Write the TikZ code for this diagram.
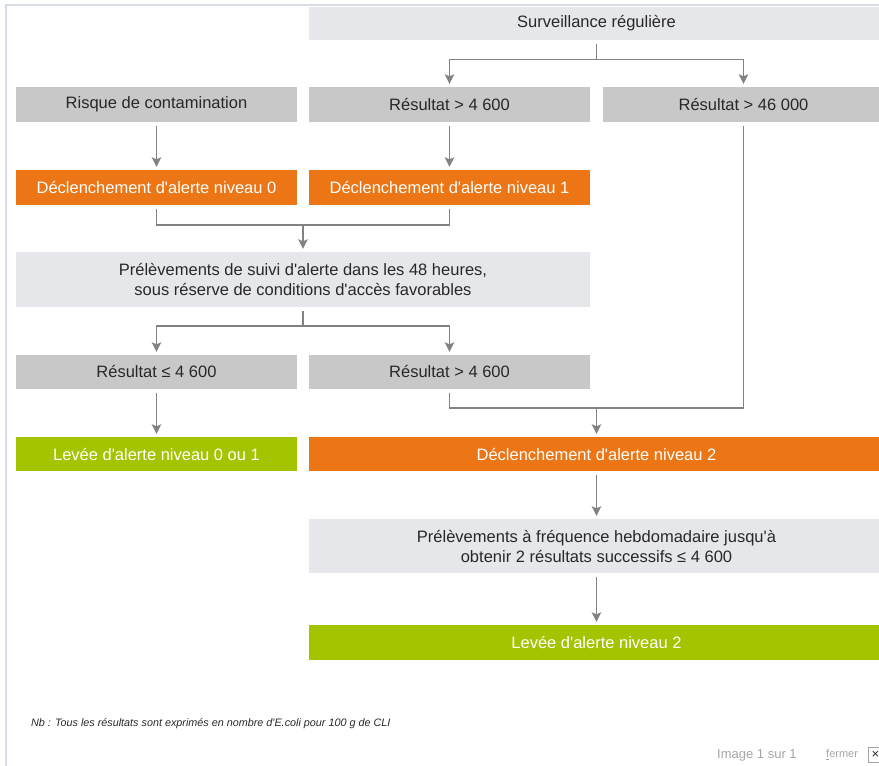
\documentclass[tikz,border=0pt]{standalone}
\usepackage{fontspec}
\setmainfont{Liberation Sans}[Ligatures=TeXOff]
\usepackage{tikz}
\usetikzlibrary{positioning, arrows.meta, calc}
\definecolor{alLight}{RGB}{230, 231, 234}
\definecolor{alGray}{RGB}{200, 200, 200}
\definecolor{alOrange}{RGB}{236, 118, 22}
\definecolor{alGreen}{RGB}{165, 196, 0}
\definecolor{alLine}{RGB}{130, 130, 130}
\definecolor{alText}{RGB}{40, 40, 40}
\definecolor{alFrame}{RGB}{214, 220, 232}
\definecolor{alFoot}{RGB}{165, 165, 165}
\tikzset{
    base/.style={
        font=\fontsize{16.5}{20}\selectfont,
        align=center,
        inner sep=0pt
    },
    stage/.style={
        base,
        rectangle,
        minimum height=35pt,
        text=alText
    },
    check/.style={
        stage,
        fill=alGray,
        minimum width=281pt
    },
    soft/.style={
        stage,
        fill=alLight
    },
    alert/.style={
        stage,
        fill=alOrange,
        text=white,
        minimum width=281pt
    },
    clear/.style={
        stage,
        fill=alGreen,
        text=white,
        minimum width=281pt
    },
    link/.style={
        line width=1.4pt,
        color=alLine,
        shorten <=4pt
    },
    flow/.style={
        link,
        -{Stealth[length=9.5pt, width=9.5pt, inset=2pt]},
        shorten >=3pt
    },
    note/.style={
        font=\fontsize{10.8}{12}\selectfont\itshape,
        text=alText,
        anchor=west,
        inner sep=0pt
    }
}

\begin{document}
\begin{tikzpicture}[x=1pt, y=-1pt]
    \useasboundingbox (0,0) rectangle (879,766);
    \clip (0,0) rectangle (879,766);

    % Frame
    \draw[alFrame, line width=2pt] (6,766) -- (6,5) -- (879,5);

    % Top
    \node[soft, minimum width=575pt, minimum height=33pt] (surv) at (596.5,23.5) {Surveillance régulière};

    % Results and risk
    \node[check] (risque) at (156.5,104.5) {Risque de contamination};
    \node[check] (res1) at (449.5,104.5) {Résultat > 4 600};
    \node[check] (res2) at (743.5,104.5) {Résultat > 46 000};

    % Level 0 / 1
    \node[alert] (decl0) at (156.5,187.5) {Déclenchement d'alerte niveau 0};
    \node[alert] (decl1) at (449.5,187.5) {Déclenchement d'alerte niveau 1};

    % Follow-up sampling
    \node[soft, minimum width=574pt, minimum height=55pt] (prel) at (303,279.5)
        {Prélèvements de suivi d'alerte dans les 48 heures,\\ sous réserve de conditions d'accès favorables};

    \node[check, minimum height=34pt] (resle) at (156.5,372) {Résultat ≤ 4 600};
    \node[check, minimum height=34pt] (resgt) at (449.5,372) {Résultat > 4 600};

    % Level 2
    \node[clear, minimum height=34pt] (levee01) at (156.5,454) {Levée d'alerte niveau 0 ou 1};
    \node[alert, minimum width=575pt, minimum height=34pt] (decl2) at (596.5,454) {Déclenchement d'alerte niveau 2};
    \node[soft, minimum width=575pt, minimum height=54pt] (hebdo) at (596.5,546)
        {Prélèvements à fréquence hebdomadaire jusqu'à\\ obtenir 2 résultats successifs ≤ 4 600};
    \node[clear, minimum width=575pt] (levee2) at (596.5,642.5) {Levée d'alerte niveau 2};

    % Junctions
    \coordinate (j1) at (596.5,59.5);
    \coordinate (j2) at (303,225);
    \coordinate (j3) at (303,326);
    \coordinate (j4) at (596.5,408);

    % Connectors
    \draw[link] (surv) -- (j1);
    \draw[flow, shorten <=0pt] (j1) -| (res1);
    \draw[flow, shorten <=0pt] (j1) -| (res2);
    \draw[flow] (risque) -- (decl0);
    \draw[flow] (res1) -- (decl1);
    \draw[link] (decl0) |- (j2);
    \draw[link] (decl1) |- (j2);
    \draw[flow, shorten <=0pt] (j2) -- (prel);
    \draw[link] (prel) -- (j3);
    \draw[flow, shorten <=0pt] (j3) -| (resle);
    \draw[flow, shorten <=0pt] (j3) -| (resgt);
    \draw[flow] (resle) -- (levee01);
    \draw[link] (resgt) |- (j4);
    \draw[link] (res2) |- (j4);
    \draw[flow, shorten <=0pt] (j4) -- (decl2);
    \draw[flow] (decl2) -- (hebdo);
    \draw[flow] (hebdo) -- (levee2);

    % Footer
    \node[note] (nb) at (31,724) {Nb : Tous les résultats sont exprimés en nombre d'E.coli pour 100 g de CLI};
    \node[note, font=\fontsize{13}{15}\selectfont, text=alFoot] (page) at (717,755) {Image 1 sur 1};
    \node[note, font=\fontsize{11}{13}\selectfont, text=alFoot] (close) at (826,755) {\underline{f}ermer};
    \node[draw=alFoot, line width=0.8pt, text=alText, font=\fontsize{13}{13}\selectfont, minimum size=15pt, inner sep=0pt] (closebox) at (875.5,755) {×};
\end{tikzpicture}
\end{document}
